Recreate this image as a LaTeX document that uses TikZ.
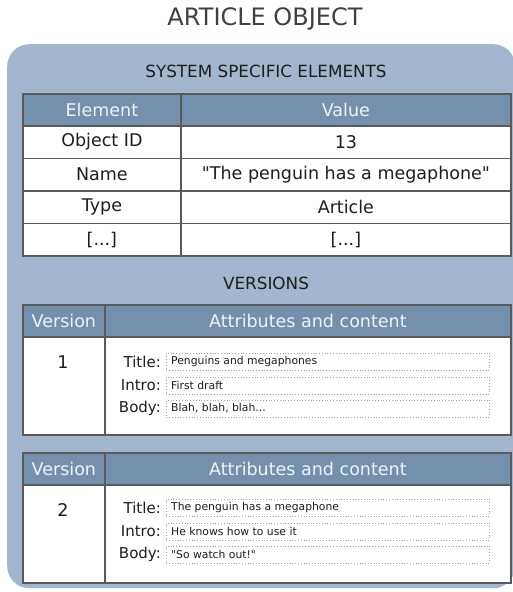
\documentclass[tikz,border=0pt]{standalone}
\usepackage{fontspec}
\setmainfont{DejaVu Sans}[Ligatures=TeXOff]
\usetikzlibrary{positioning}
\definecolor{frameblue}{RGB}{163, 182, 205}
\definecolor{headblue}{RGB}{117, 144, 173}
\definecolor{gridgray}{RGB}{90, 90, 90}
\definecolor{inkgray}{RGB}{30, 30, 30}
\definecolor{headink}{RGB}{238, 242, 247}
\definecolor{fieldgray}{RGB}{160, 160, 160}

\begin{document}
\begin{tikzpicture}[x=1pt, y=-1pt,
    cell/.style={rectangle, draw=gridgray, line width=1.8pt, fill=white, anchor=north west, inner sep=0pt, text=inkgray, font=\fontsize{17.5}{20}\selectfont},
    head/.style={cell, fill=headblue, text=headink},
    keycell/.style={cell, minimum width=158pt, minimum height=32.5pt},
    valcell/.style={cell, minimum width=330pt, minimum height=32.5pt},
    verhead/.style={head, minimum width=82pt, minimum height=32pt},
    atthead/.style={head, minimum width=406pt, minimum height=32pt},
    verbody/.style={cell, minimum width=82pt, minimum height=98pt},
    attbody/.style={cell, minimum width=406pt, minimum height=98pt},
    fieldname/.style={anchor=east, inner sep=0pt, text=inkgray, font=\fontsize{15}{17}\selectfont},
    field/.style={rectangle, draw=fieldgray, dotted, line width=0.8pt, anchor=west, minimum width=323pt, minimum height=17pt, inner sep=0pt},
    fieldtext/.style={anchor=west, inner sep=0pt, text=inkgray, font=\fontsize{10.8}{12}\selectfont},
    sectitle/.style={text=inkgray, font=\fontsize{16.8}{19}\selectfont}
]
\useasboundingbox (0,0) rectangle (512,592);

% Title and frame
\node[text=inkgray!85, font=\fontsize{24}{27}\selectfont] (title) at (265,19) {ARTICLE OBJECT};
\node[fill=frameblue, rounded corners=22pt, anchor=north west, minimum width=508pt, minimum height=544pt] (frame) at (7,44) {};

% System specific elements
\node[sectitle] (systitle) at (266,71) {SYSTEM SPECIFIC ELEMENTS};
\node[head, minimum width=158pt, minimum height=32pt] (elemhead) at (22,93) {Element};
\node[head, minimum width=330pt, minimum height=32pt] (valhead) at (180,93) {Value};
\node[keycell] (key1) at (22,125) {Object ID};
\node[valcell] (val1) at (180,125) {13};
\node[keycell] (key2) at (22,157.5) {Name};
\node[valcell] (val2) at (180,157.5) {"The penguin has a megaphone"};
\node[keycell] (key3) at (22,190) {Type};
\node[valcell] (val3) at (180,190) {Article};
\node[keycell] (key4) at (22,222.5) {[...]};
\node[valcell] (val4) at (180,222.5) {[...]};

% Versions
\node[sectitle] (vertitle) at (266,283) {VERSIONS};

% Version 1
\node[verhead] (verhead1) at (22,304) {Version};
\node[atthead] (atthead1) at (104,304) {Attributes and content};
\node[verbody] (verbody1) at (22,336) {};
\node[attbody] (attbody1) at (104,336) {};
\node[text=inkgray, font=\fontsize{17.5}{20}\selectfont] (vnum1) at (63,362) {1};
\node[fieldname] (tname1) at (161,361.5) {Title:};
\node[field] (tfield1) at (166,361.5) {};
\node[fieldtext, right=5pt of tfield1.west] (ttext1) {Penguins and megaphones};
\node[fieldname] (iname1) at (161,385.5) {Intro:};
\node[field] (ifield1) at (166,385.5) {};
\node[fieldtext, right=5pt of ifield1.west] (itext1) {First draft};
\node[fieldname] (bname1) at (161,408.5) {Body:};
\node[field] (bfield1) at (166,408.5) {};
\node[fieldtext, right=5pt of bfield1.west] (btext1) {Blah, blah, blah...};

% Version 2
\node[verhead] (verhead2) at (22,452) {Version};
\node[atthead] (atthead2) at (104,452) {Attributes and content};
\node[verbody] (verbody2) at (22,484) {};
\node[attbody] (attbody2) at (104,484) {};
\node[text=inkgray, font=\fontsize{17.5}{20}\selectfont] (vnum2) at (63,510) {2};
\node[fieldname] (tname2) at (161,507.5) {Title:};
\node[field] (tfield2) at (166,507.5) {};
\node[fieldtext, right=5pt of tfield2.west] (ttext2) {The penguin has a megaphone};
\node[fieldname] (iname2) at (161,531.5) {Intro:};
\node[field] (ifield2) at (166,531.5) {};
\node[fieldtext, right=5pt of ifield2.west] (itext2) {He knows how to use it};
\node[fieldname] (bname2) at (161,554.5) {Body:};
\node[field] (bfield2) at (166,554.5) {};
\node[fieldtext, right=5pt of bfield2.west] (btext2) {"So watch out!"};
\end{tikzpicture}
\end{document}
